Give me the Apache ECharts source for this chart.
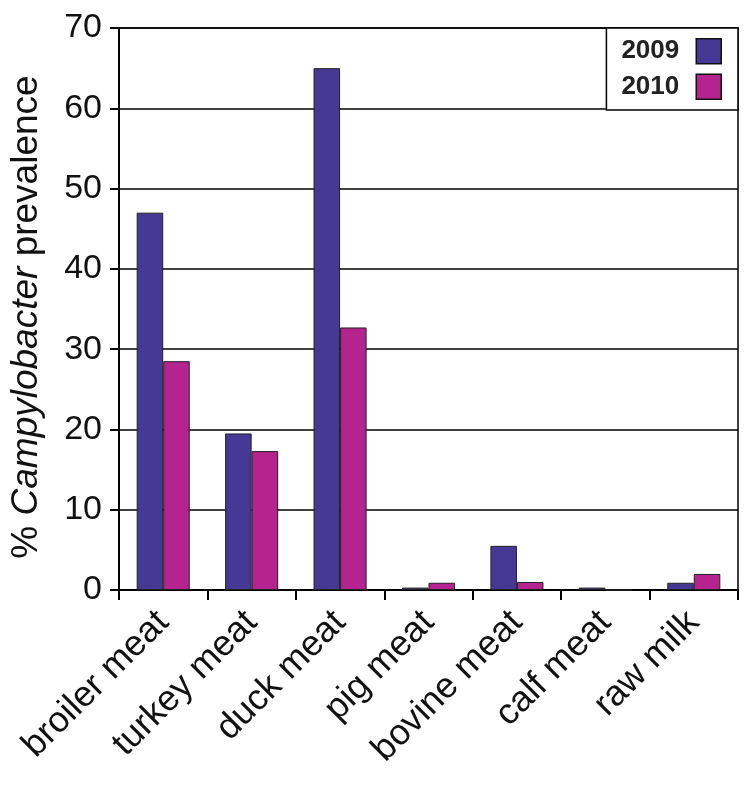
<!DOCTYPE html>
<html>
<head>
<meta charset="utf-8">
<script src="https://cdn.jsdelivr.net/npm/echarts@6/dist/echarts.min.js"></script>
<style>
  body { margin: 0; background: #fff; }
  #container { width: 750px; height: 785px; }
</style>
</head>
<body>
<div id="container"></div>
<script>
var categories = ['broiler meat', 'turkey meat', 'duck meat', 'pig meat', 'bovine meat', 'calf meat', 'raw milk'];
var values2009 = [47, 19.5, 65, 0.3, 5.5, 0.3, 0.9];
var values2010 = [28.5, 17.3, 32.7, 0.9, 1.0, 0, 2.0];
var seriesNames = ['2009', '2010'];

var dom = document.getElementById("container");
var myChart = echarts.init(dom);

var option = {
    animation: false,
    textStyle: { fontFamily: 'Liberation Sans, Arial, sans-serif' },
    grid: {
        left: 117,
        right: 12,
        top: 28,
        bottom: 195,
        show: true,
        borderColor: '#000',
        borderWidth: 1.5
    },
    legend: {
        data: seriesNames,
        orient: 'vertical',
        right: 12,
        top: 28,
        align: 'right',
        icon: 'rect',
        itemWidth: 25,
        itemHeight: 25,
        itemGap: 9,
        padding: [10, 16, 10, 15],
        borderColor: '#000',
        borderWidth: 1.5,
        backgroundColor: '#fff',
        itemStyle: { borderColor: '#111', borderWidth: 1.5 },
        textStyle: {
            fontSize: 26,
            fontWeight: 'bold',
            color: '#222',
            padding: [0, 12, 0, 0]
        }
    },
    xAxis: {
        type: 'category',
        data: categories,
        axisLine: { lineStyle: { color: '#000', width: 2 } },
        axisTick: { show: true, length: 10, lineStyle: { color: '#000', width: 2 } },
        axisLabel: {
            rotate: 45,
            fontSize: 36,
            color: '#111',
            margin: 27,
            interval: 0
        }
    },
    yAxis: {
        type: 'value',
        min: 0,
        max: 70,
        interval: 10,
        name: '{n|% }{i|Campylobacter}{n| prevalence}',
        nameLocation: 'middle',
        nameRotate: 90,
        nameGap: 74,
        nameTextStyle: {
            padding: [0, 16, 0, 0],
            rich: {
                n: { fontSize: 37, color: '#111' },
                i: { fontSize: 37, color: '#111', fontStyle: 'italic' }
            }
        },
        axisLine: { show: true, lineStyle: { color: '#000', width: 2 } },
        axisTick: { show: true, length: 9, lineStyle: { color: '#000', width: 2 } },
        axisLabel: { fontSize: 34, color: '#111', margin: 17 },
        splitLine: { lineStyle: { color: '#000', width: 1.5 } }
    },
    series: [
        {
            name: seriesNames[0],
            type: 'bar',
            data: values2009,
            barGap: '0%',
            barCategoryGap: '40%',
            itemStyle: { color: '#463996', borderColor: '#222', borderWidth: 1 }
        },
        {
            name: seriesNames[1],
            type: 'bar',
            data: values2010,
            itemStyle: { color: '#b5238e', borderColor: '#222', borderWidth: 1 }
        }
    ]
};

myChart.setOption(option, true);
</script>
</body>
</html>
